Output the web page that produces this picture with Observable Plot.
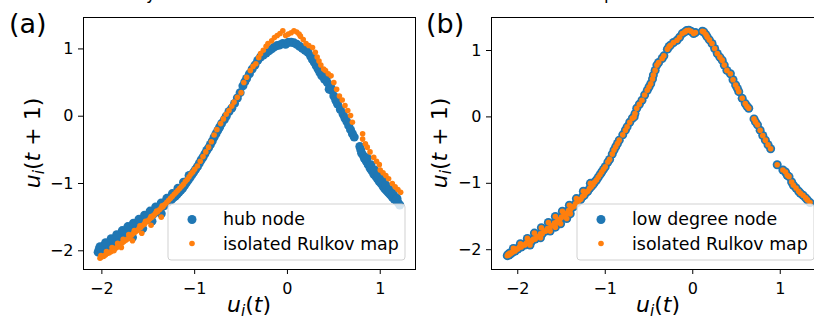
<!DOCTYPE html>
<html><head><meta charset="utf-8">
<script src="https://cdn.jsdelivr.net/npm/d3@7"></script>
<script src="https://cdn.jsdelivr.net/npm/@observablehq/plot@0.6"></script>
<style>
body{margin:0;background:#fff;}
#wrap{position:relative;width:814px;height:320px;overflow:hidden;font-family:"DejaVu Sans";background:#fff;}
#wrap > svg{position:absolute;top:0;}
</style></head><body><div id="wrap"></div>
<script>
const BLUE = "#1f77b4", ORANGE = "#ff7f0e";
const tickValues = [-2, -1, 0, 1];
const seriesA = ["hub node", "isolated Rulkov map"];
const seriesB = ["low degree node", "isolated Rulkov map"];

// panel (a): hub node  [u_i(t), u_i(t+1)]
const hubNode = [
[-2.04,-2.02],[-2.03,-1.98],[-2.02,-2.01],[-2.01,-1.96],[-2.00,-1.99],[-1.99,-1.94],[-1.98,-1.97],[-1.97,-1.92],[-1.95,-1.95],[-1.94,-1.90],
[-1.92,-1.92],[-1.90,-1.87],[-1.89,-1.89],[-1.87,-1.84],[-1.85,-1.86],[-1.83,-1.81],[-1.81,-1.83],[-1.79,-1.77],[-1.77,-1.79],[-1.75,-1.73],
[-1.73,-1.75],[-1.71,-1.69],[-1.69,-1.71],[-1.67,-1.65],[-1.65,-1.67],[-1.63,-1.61],[-1.61,-1.63],[-1.59,-1.57],[-1.57,-1.59],[-1.55,-1.53],
[-1.53,-1.54],[-1.51,-1.49],[-1.49,-1.50],[-1.47,-1.45],[-1.45,-1.46],[-1.43,-1.41],[-1.41,-1.42],[-1.39,-1.37],[-1.37,-1.37],[-1.35,-1.33],
[-1.33,-1.33],[-1.31,-1.29],[-1.29,-1.28],[-1.27,-1.25],[-1.25,-1.24],[-1.23,-1.21],[-1.21,-1.19],[-1.19,-1.16],[-1.17,-1.13],[-1.15,-1.10],
[-1.13,-1.07],[-1.11,-1.03],[-1.09,-0.99],[-1.07,-0.95],[-1.05,-0.91],[-1.03,-0.87],[-1.01,-0.83],[-0.99,-0.79],[-0.97,-0.75],[-0.95,-0.70],
[-0.93,-0.65],[-0.91,-0.61],[-0.89,-0.56],[-0.87,-0.51],[-0.85,-0.47],[-0.83,-0.42],[-0.81,-0.37],[-0.79,-0.31],[-0.77,-0.26],[-0.75,-0.21],
[-0.73,-0.16],[-0.71,-0.11],[-0.68,-0.05],[-0.66,0.00],[-0.63,0.07],[-0.60,0.12],[-0.57,0.19],[-0.54,0.27],[-0.51,0.35],[-0.48,0.45],
[-0.46,0.51],[-0.44,0.56],[-0.41,0.63],[-0.38,0.70],[-0.35,0.76],[-0.32,0.83],[-0.29,0.88],[-0.26,0.91],[-0.23,0.94],[-0.20,0.97],
[-0.17,1.00],[-0.14,1.03],[-0.11,1.05],[-0.08,1.06],[-0.05,1.08],[-0.02,1.07],[0.01,1.10],[0.04,1.10],[0.07,1.09],[0.10,1.07],
[0.13,1.04],[0.16,1.01],[0.19,0.98],[0.22,0.95],[0.25,0.89],[0.27,0.84],[0.29,0.80],[0.31,0.75],[0.33,0.70],[0.35,0.65],
[0.37,0.60],[0.40,0.55],[0.43,0.50],[0.46,0.45],[0.48,0.38],[0.50,0.30],[0.52,0.24],[0.54,0.18],[0.57,0.10],[0.60,0.03],
[0.62,-0.03],[0.64,-0.08],[0.66,-0.14],[0.68,-0.20],[0.70,-0.26],[0.72,-0.31],[0.78,-0.45],[0.79,-0.50],[0.80,-0.55],[0.82,-0.59],
[0.83,-0.63],[0.85,-0.67],[0.87,-0.72],[0.89,-0.77],[0.91,-0.81],[0.93,-0.86],[0.95,-0.89],[0.97,-0.93],[0.99,-0.97],[1.01,-1.00],
[1.03,-1.04],[1.05,-1.08],[1.07,-1.11],[1.09,-1.14],[1.11,-1.17],[1.13,-1.20],[1.15,-1.23],[1.17,-1.25],[1.19,-1.28],[1.21,-1.32],
[-2.02,-1.94],[-1.96,-1.88],[-1.90,-1.82],[-1.84,-1.76],[-1.78,-1.70],[-1.72,-1.64],[-1.66,-1.59],[-1.60,-1.53],[-1.54,-1.47],[-1.48,-1.41],
[-1.42,-1.35],[-1.36,-1.29],[-1.30,-1.22],[-1.24,-1.15],[-1.18,-1.07],[-1.12,-0.98],[-1.06,-0.88],
[-1.67,-1.80],[-1.56,-1.67],[-1.46,-1.56],[-1.36,-1.45],
[0.86,-0.62],[0.90,-0.72],[0.94,-0.80],[0.98,-0.88],[1.02,-0.95],[1.06,-1.02],[1.10,-1.09],[1.14,-1.15],[1.18,-1.22],
[0.38,0.66],[0.42,0.58],[0.45,0.40],[0.47,0.42],[0.53,0.22]
];

// panel (a): isolated Rulkov map
const isolatedA = [
[-2.02,-2.11],[-2.00,-2.09],[-1.98,-2.08],[-1.96,-2.06],[-1.94,-2.04],[-1.92,-2.03],[-1.90,-2.01],[-1.88,-1.99],[-1.86,-1.97],[-1.84,-1.95],
[-1.82,-1.93],[-1.80,-1.91],[-1.78,-1.88],[-1.76,-1.86],[-1.74,-1.84],[-1.72,-1.82],[-1.70,-1.79],[-1.68,-1.77],[-1.66,-1.74],[-1.64,-1.72],
[-1.62,-1.70],[-1.60,-1.67],[-1.58,-1.65],[-1.56,-1.62],[-1.54,-1.60],[-1.52,-1.57],[-1.50,-1.55],[-1.48,-1.52],[-1.46,-1.50],[-1.44,-1.47],
[-1.42,-1.44],[-1.40,-1.42],[-1.38,-1.39],[-1.36,-1.36],[-1.34,-1.34],[-1.32,-1.31],[-1.30,-1.28],[-1.28,-1.25],[-1.26,-1.22],[-1.24,-1.19],
[-1.22,-1.16],[-1.20,-1.13],[-1.18,-1.10],[-1.16,-1.07],[-1.14,-1.04],[-1.12,-1.01],[-1.10,-0.97],[-1.08,-0.94],[-1.06,-0.90],[-1.04,-0.86],
[-1.02,-0.83],[-1.00,-0.79],
[-2.01,-2.07],[-1.95,-2.01],[-1.89,-1.95],[-1.83,-1.89],[-1.77,-1.83],[-1.71,-1.76],[-1.65,-1.70],[-1.59,-1.63],[-1.53,-1.56],[-1.47,-1.49],
[-1.41,-1.41],[-1.35,-1.33],
[-1.87,-2.00],[-1.79,-1.95],[-1.67,-1.85],[-1.57,-1.74],[-1.47,-1.62],[-1.36,-1.50],
[-0.97,-0.74],[-0.94,-0.67],[-0.91,-0.60],[-0.88,-0.53],[-0.85,-0.46],[-0.82,-0.38],[-0.79,-0.28],[-0.76,-0.20],[-0.72,-0.11],[-0.69,-0.04],
[-0.66,0.03],[-0.63,0.085],[-0.60,0.15],[-0.575,0.21],[-0.54,0.28],[-0.50,0.35],[-0.47,0.50],[-0.44,0.58],[-0.40,0.68],[-0.37,0.74],
[-0.34,0.78],[-0.31,0.87],[-0.29,0.93],[-0.26,0.98],[-0.23,1.04],[-0.21,1.08],[-0.17,1.12],[-0.14,1.17],[-0.11,1.20],[-0.08,1.23],
[-0.05,1.27],[-0.02,1.20],[0.01,1.22],[0.04,1.24],[0.07,1.27],[0.10,1.25],[0.125,1.22],[0.14,1.19],[0.17,1.14],[0.20,1.08],
[0.23,1.05],[0.27,1.02],[0.30,0.95],[0.32,0.88],[0.34,0.82],[0.36,0.76],[0.39,0.70],[0.41,0.68],[0.44,0.63],[0.47,0.60],
[0.50,0.50],[0.53,0.40],[0.56,0.30],[0.59,0.24],[0.62,0.16],[0.65,0.085],[0.68,0.01],[0.70,-0.09],[0.81,-0.26],[0.81,-0.34],
[0.84,-0.41],[0.86,-0.46],[0.89,-0.53],[0.93,-0.61],[0.96,-0.67],[0.99,-0.72],[1.00,-0.80],[1.03,-0.84],[1.06,-0.88],[1.09,-0.93],
[1.13,-1.00],[1.16,-1.05],[1.19,-1.09],[1.22,-1.13]
];

// panel (b): low degree node
const lowDegree = [
[-2.12,-2.09],[-2.11,-2.07],[-2.10,-2.08],[-2.09,-2.05],[-2.08,-2.06],[-2.06,-2.04],[-2.05,-2.02],[-2.03,-2.02],[-2.02,-1.99],[-2.00,-1.99],
[-1.98,-1.96],[-1.96,-1.96],[-1.94,-1.93],[-1.92,-1.93],[-1.90,-1.90],[-1.88,-1.90],[-1.86,-1.87],[-1.84,-1.87],[-1.82,-1.84],[-1.80,-1.84],
[-1.78,-1.80],[-1.76,-1.80],[-1.74,-1.76],[-1.72,-1.76],[-1.70,-1.72],[-1.68,-1.72],[-1.66,-1.68],[-1.64,-1.68],[-1.62,-1.64],[-1.60,-1.64],
[-1.58,-1.60],[-1.56,-1.59],[-1.54,-1.55],[-1.52,-1.55],[-1.50,-1.51],[-1.48,-1.50],[-1.46,-1.46],[-1.44,-1.45],[-1.42,-1.41],[-1.40,-1.40],
[-1.38,-1.36],[-1.36,-1.35],[-1.34,-1.31],[-1.32,-1.29],[-1.30,-1.26],[-1.28,-1.24],[-1.26,-1.20],[-1.24,-1.18],[-1.22,-1.14],[-1.20,-1.12],
[-1.18,-1.08],[-1.16,-1.05],[-1.14,-1.02],[-1.12,-0.98],[-1.10,-0.95],[-1.08,-0.91],[-1.06,-0.87],[-1.04,-0.83],[-1.02,-0.79],[-1.00,-0.75],
[-2.05,-1.98],[-1.97,-1.91],[-1.89,-1.83],[-1.81,-1.75],[-1.73,-1.67],[-1.65,-1.59],[-1.57,-1.50],[-1.49,-1.42],[-1.41,-1.33],[-1.33,-1.23],
[-1.25,-1.12],[-1.17,-1.00],
[-1.86,-1.93],[-1.74,-1.82],[-1.63,-1.72],[-1.57,-1.66],[-1.51,-1.61],[-1.44,-1.53],[-1.40,-1.46],
[-0.97,-0.68],[-0.95,-0.64],[-0.92,-0.56],[-0.90,-0.50],[-0.88,-0.45],[-0.86,-0.40],[-0.84,-0.35],[-0.80,-0.27],[-0.77,-0.20],[-0.75,-0.15],
[-0.72,-0.08],[-0.69,-0.02],[-0.67,0.00],[-0.66,0.05],[-0.64,0.13],[-0.61,0.19],[-0.58,0.25],[-0.55,0.33],[-0.52,0.40],[-0.50,0.45],
[-0.48,0.50],[-0.46,0.57],[-0.45,0.63],[-0.43,0.70],[-0.41,0.78],[-0.39,0.82],[-0.35,0.88],[-0.33,0.92],[-0.29,1.02],[-0.27,1.06],
[-0.255,1.08],[-0.22,1.12],[-0.18,1.155],[-0.15,1.20],[-0.12,1.255],[-0.09,1.28],[-0.07,1.30],[-0.045,1.305],[-0.02,1.29],[0.01,1.255],
[0.03,1.27],[0.11,1.29],[0.126,1.28],[0.15,1.24],[0.165,1.205],[0.19,1.16],[0.22,1.105],[0.25,1.03],[0.28,0.955],[0.31,0.90],
[0.336,0.855],[0.36,0.78],[0.39,0.70],[0.43,0.65],[0.46,0.56],[0.49,0.48],[0.51,0.43],[0.526,0.38],[0.565,0.28],[0.60,0.20],
[0.62,0.16],[0.64,0.13],[0.70,-0.03],[0.717,-0.075],[0.74,-0.12],[0.77,-0.20],[0.80,-0.28],[0.83,-0.35],[0.86,-0.42],[0.89,-0.48],
[0.965,-0.72],[1.03,-0.80],[1.06,-0.83],[1.08,-0.88],[1.10,-0.90],[1.13,-0.98],[1.15,-1.03],[1.18,-1.07],[1.21,-1.12],[1.23,-1.15],
[1.26,-1.18],[1.29,-1.22],[1.31,-1.25],[1.34,-1.29]
];
// panel (b): the isolated map coincides with the low degree node
const isolatedB = lowDegree.map(d => [d[0], d[1]]);

const fmt = d => (d < 0 ? "\u2212" + Math.abs(d) : String(d));

function panel(blue, orange, xDomain, yDomain, mL, mR) {
  return Plot.plot({
    width: 420, height: 320,
    marginLeft: mL, marginRight: mR, marginTop: 17, marginBottom: 51,
    x: {domain: xDomain}, y: {domain: yDomain},
    style: {fontFamily: "DejaVu Sans", fontSize: "16px", color: "#000", background: "transparent", overflow: "visible"},
    marks: [
      Plot.dot(blue, {x: d => d[0], y: d => d[1], r: 4.5, fill: BLUE}),
      Plot.dot(orange, {x: d => d[0], y: d => d[1], r: 2.8, fill: ORANGE}),
      Plot.frame({stroke: "#000", strokeWidth: 1}),
      Plot.axisX({ticks: tickValues, tickSize: 5, tickPadding: 8, fontSize: 16, label: null, tickFormat: fmt, stroke: "#000", color: "#000"}),
      Plot.axisY({ticks: tickValues, tickSize: 5, tickPadding: 5, fontSize: 16, label: null, tickFormat: fmt, stroke: "#000", color: "#000"})
    ]
  });
}

const wrap = document.getElementById("wrap");
const pa = panel(hubNode, isolatedA, [-2.198, 1.38], [-2.278, 1.467], 83, 5);
pa.style.left = "0px";
wrap.appendChild(pa);
const pb = panel(lowDegree, isolatedB, [-2.30, 1.517], [-2.298, 1.497], 86, 0);
pb.style.left = "405px";
wrap.appendChild(pb);

function mathLabel(extra) {
  return `<tspan font-style="italic">u</tspan><tspan font-style="italic" font-size="15.5" dy="4">i</tspan><tspan dy="-4">(</tspan><tspan font-style="italic">t</tspan><tspan>${extra})</tspan>`;
}
function legend(x0, names) {
  return `<rect x="${x0}" y="204" width="237" height="56" rx="3" fill="#fff" fill-opacity="0.8" stroke="#cccccc" stroke-opacity="0.9"/>
  <circle cx="${x0 + 24}" cy="219.5" r="4.5" fill="${BLUE}"/>
  <circle cx="${x0 + 24}" cy="243.5" r="2.8" fill="${ORANGE}"/>
  <text x="${x0 + 55}" y="225" font-size="17.4">${names[0]}</text>
  <text x="${x0 + 55}" y="250" font-size="17.4">${names[1]}</text>`;
}
const ov = document.createElementNS("http://www.w3.org/2000/svg", "svg");
ov.setAttribute("width", 814); ov.setAttribute("height", 320);
ov.style.left = "0px";
ov.setAttribute("font-family", "DejaVu Sans");
ov.innerHTML = `
  <text x="146" y="-1" font-size="17">y</text>
  <text x="604" y="-1" font-size="17">p</text>
  <text x="9" y="33" font-size="27">(a)</text>
  <text x="426" y="33" font-size="27">(b)</text>
  <text transform="translate(40,143) rotate(-90)" text-anchor="middle" font-size="22">${mathLabel(" + 1")}</text>
  <text transform="translate(447,143) rotate(-90)" text-anchor="middle" font-size="22">${mathLabel(" + 1")}</text>
  <text x="249" y="312" text-anchor="middle" font-size="22">${mathLabel("")}</text>
  <text x="658" y="312" text-anchor="middle" font-size="22">${mathLabel("")}</text>
  ${legend(168, seriesA)}
  ${legend(577, seriesB)}
`;
wrap.appendChild(ov);
</script></body></html>
